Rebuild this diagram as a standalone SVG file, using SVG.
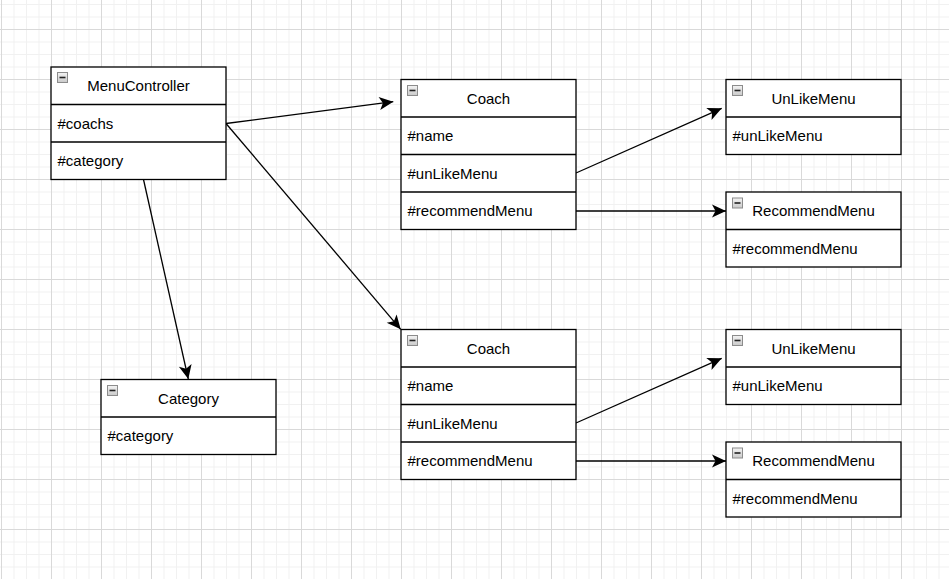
<svg xmlns="http://www.w3.org/2000/svg" xmlns:xlink="http://www.w3.org/1999/xlink" width="949" height="579" viewBox="0 0 949 579">
<style>
.box{fill:#fff;stroke:#000;stroke-width:1.3}
.div{stroke:#000;stroke-width:1.3;fill:none}
.t{font-family:"Liberation Sans",Arial,sans-serif;font-size:15px;fill:#000}
.title{text-anchor:middle}
.edge{stroke:#000;stroke-width:1.3;fill:none;marker-end:url(#arr)}
</style>
<defs>
<pattern id="grid" patternUnits="userSpaceOnUse" x="1" y="-21" width="50" height="50">
<rect x="0" y="0" width="50" height="50" fill="#fff"/>
<rect x="12.5" y="0" width="1" height="50" fill="#f1f1f1"/>
<rect x="25" y="0" width="1" height="50" fill="#f1f1f1"/>
<rect x="37.5" y="0" width="1" height="50" fill="#f1f1f1"/>
<rect x="0" y="12.5" width="50" height="1" fill="#f1f1f1"/>
<rect x="0" y="25" width="50" height="1" fill="#f1f1f1"/>
<rect x="0" y="37.5" width="50" height="1" fill="#f1f1f1"/>
<rect x="0" y="0" width="1" height="50" fill="#d9d9d9"/>
<rect x="0" y="0" width="50" height="1" fill="#d9d9d9"/>
</pattern>
<linearGradient id="ig" x1="0" y1="0" x2="0" y2="1">
<stop offset="0" stop-color="#f4f4f4"/>
<stop offset="1" stop-color="#c9c9c9"/>
</linearGradient>
<g id="icon">
<rect x="0.5" y="0.5" width="10" height="10" fill="url(#ig)" stroke="#8c8c8c" stroke-width="1"/>
<line x1="2.5" y1="5.5" x2="8.5" y2="5.5" stroke="#222" stroke-width="1.6"/>
</g>
<marker id="arr" markerUnits="userSpaceOnUse" markerWidth="16" markerHeight="16" viewBox="0 0 16 16" refX="15" refY="8" orient="auto">
<path d="M15,8 L1,1.5 L4.5,8 L1,14.5 Z" fill="#000"/>
</marker>
</defs>
<rect x="0" y="0" width="949" height="579" fill="url(#grid)"/>

<g id="connectors">
<line class="edge" x1="226" y1="123.5" x2="393.3" y2="101.7"/>
<line class="edge" x1="226" y1="123.5" x2="400.7" y2="329.3"/>
<line class="edge" x1="143.5" y1="179.5" x2="188.3" y2="379"/>
<line class="edge" x1="576" y1="173" x2="721.7" y2="108.3"/>
<line class="edge" x1="576" y1="211" x2="726" y2="211"/>
<line class="edge" x1="576" y1="423" x2="721.7" y2="358.3"/>
<line class="edge" x1="576" y1="461" x2="726" y2="461"/>
</g>

<g id="menuController">
<rect class="box" x="51" y="67" width="175" height="112.5"/>
<line class="div" x1="51" y1="104.5" x2="226" y2="104.5"/>
<line class="div" x1="51" y1="142" x2="226" y2="142"/>
<use xlink:href="#icon" x="57" y="72"/>
<text class="t title" x="138.5" y="91.2">MenuController</text>
<text class="t" x="57.5" y="128.7">#coachs</text>
<text class="t" x="57.5" y="166.2">#category</text>
</g>

<g id="coach1">
<rect class="box" x="401" y="79.5" width="175" height="150"/>
<line class="div" x1="401" y1="117" x2="576" y2="117"/>
<line class="div" x1="401" y1="154.5" x2="576" y2="154.5"/>
<line class="div" x1="401" y1="192" x2="576" y2="192"/>
<use xlink:href="#icon" x="407" y="85"/>
<text class="t title" x="488.5" y="103.7">Coach</text>
<text class="t" x="407.5" y="141.2">#name</text>
<text class="t" x="407.5" y="178.7">#unLikeMenu</text>
<text class="t" x="407.5" y="216.2">#recommendMenu</text>
</g>

<g id="unLikeMenu1">
<rect class="box" x="726" y="79.5" width="175" height="75"/>
<line class="div" x1="726" y1="117" x2="901" y2="117"/>
<use xlink:href="#icon" x="732" y="85"/>
<text class="t title" x="813.5" y="103.7">UnLikeMenu</text>
<text class="t" x="732.5" y="141.2">#unLikeMenu</text>
</g>

<g id="recommendMenu1">
<rect class="box" x="726" y="192" width="175" height="75"/>
<line class="div" x1="726" y1="229.5" x2="901" y2="229.5"/>
<use xlink:href="#icon" x="732" y="197.5"/>
<text class="t title" x="813.5" y="216.2">RecommendMenu</text>
<text class="t" x="732.5" y="253.7">#recommendMenu</text>
</g>

<g id="coach2">
<rect class="box" x="401" y="329.5" width="175" height="150"/>
<line class="div" x1="401" y1="367" x2="576" y2="367"/>
<line class="div" x1="401" y1="404.5" x2="576" y2="404.5"/>
<line class="div" x1="401" y1="442" x2="576" y2="442"/>
<use xlink:href="#icon" x="407" y="335"/>
<text class="t title" x="488.5" y="353.7">Coach</text>
<text class="t" x="407.5" y="391.2">#name</text>
<text class="t" x="407.5" y="428.7">#unLikeMenu</text>
<text class="t" x="407.5" y="466.2">#recommendMenu</text>
</g>

<g id="unLikeMenu2">
<rect class="box" x="726" y="329.5" width="175" height="75"/>
<line class="div" x1="726" y1="367" x2="901" y2="367"/>
<use xlink:href="#icon" x="732" y="335"/>
<text class="t title" x="813.5" y="353.7">UnLikeMenu</text>
<text class="t" x="732.5" y="391.2">#unLikeMenu</text>
</g>

<g id="recommendMenu2">
<rect class="box" x="726" y="442" width="175" height="75"/>
<line class="div" x1="726" y1="479.5" x2="901" y2="479.5"/>
<use xlink:href="#icon" x="732" y="447.5"/>
<text class="t title" x="813.5" y="466.2">RecommendMenu</text>
<text class="t" x="732.5" y="503.7">#recommendMenu</text>
</g>

<g id="category">
<rect class="box" x="101" y="379.5" width="175" height="75"/>
<line class="div" x1="101" y1="417" x2="276" y2="417"/>
<use xlink:href="#icon" x="107" y="385"/>
<text class="t title" x="188.5" y="403.7">Category</text>
<text class="t" x="107.5" y="441.2">#category</text>
</g>
</svg>
